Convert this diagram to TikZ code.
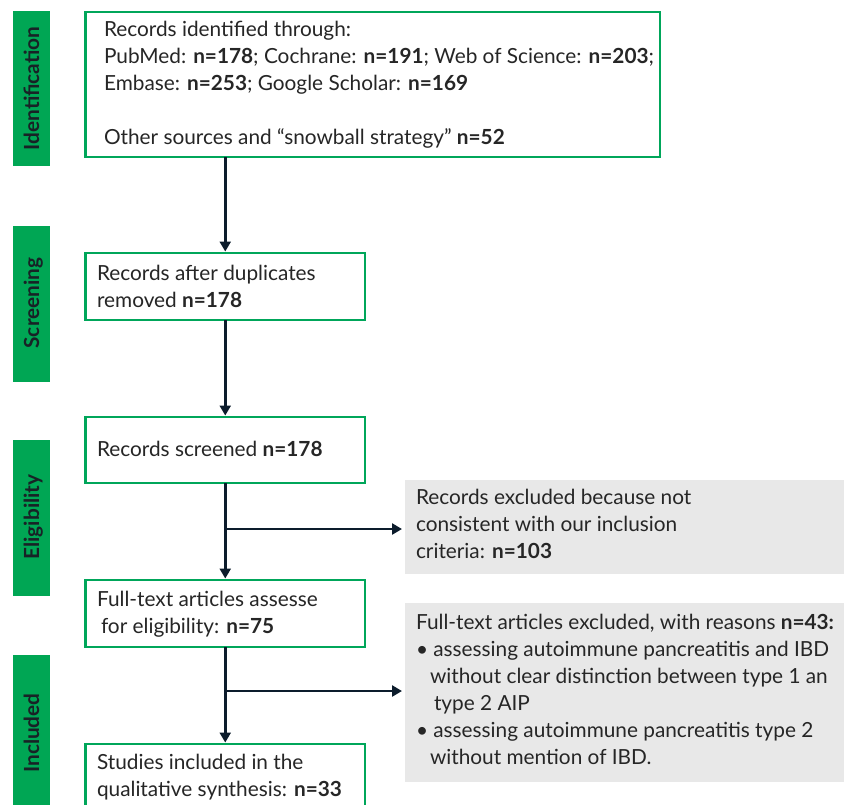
\documentclass[tikz,border=0pt]{standalone}
\usepackage{fontspec}
\setmainfont{Lato}
\usetikzlibrary{arrows.meta}
\definecolor{pgreen}{RGB}{0,166,90}
\definecolor{barg}{RGB}{0,166,84}
\definecolor{navy}{RGB}{12,28,44}
\definecolor{txtc}{RGB}{38,38,38}
\definecolor{lblc}{RGB}{24,34,38}
\definecolor{grayfill}{RGB}{232,232,232}
\newcommand{\mlines}[1]{\begin{tabular}[t]{@{}l@{}}#1\end{tabular}}
\newcommand{\bodyfs}{\fontsize{20.8}{27}\selectfont}
\begin{document}
\begin{tikzpicture}[x=1pt,y=-1pt,
  every node/.style={inner sep=0pt, outer sep=0pt},
  gbox/.style={draw=pgreen, line width=2.5pt, fill=white, rectangle},
  sidebar/.style={fill=barg, rectangle},
  sidelabel/.style={rotate=90, anchor=base, font=\bodyfs\bfseries, text=lblc},
  txt/.style={anchor=base west, text=txtc, font=\bodyfs},
  exbox/.style={fill=grayfill, rectangle},
  flow/.style={draw=navy, line width=2.6pt, -{Triangle[length=10pt,width=11pt]}}
]
\clip (0,0) rectangle (844,804);
\fill[white] (0,0) rectangle (844,804);

% side bars
\node[sidebar, minimum width=37pt, minimum height=155pt] (s1) at (31.5,88.5) {};
\node[sidebar, minimum width=37pt, minimum height=156pt] (s2) at (31.5,304) {};
\node[sidebar, minimum width=37pt, minimum height=156pt] (s3) at (31.5,518) {};
\node[sidebar, minimum width=37pt, minimum height=156pt] (s4) at (31.5,733) {};
\node[sidelabel] (l1) at (39,88.5) {Identification};
\node[sidelabel] (l2) at (39,303) {Screening};
\node[sidelabel] (l3) at (39,517) {Eligibility};
\node[sidelabel] (l4) at (39,733) {Included};

% green boxes
\node[gbox, minimum width=574.5pt, minimum height=145pt] (b1) at (372.75,84.5) {};
\node[gbox, minimum width=279.5pt, minimum height=67pt] (b2) at (225.25,286.5) {};
\node[gbox, minimum width=279.5pt, minimum height=66pt] (b3) at (225.25,450) {};
\node[gbox, minimum width=279.5pt, minimum height=67pt] (b4) at (225.25,613.5) {};
\node[gbox, minimum width=279.5pt, minimum height=67pt] (b5) at (225.25,777.5) {};

% grey boxes
\node[exbox, minimum width=445pt, minimum height=94pt] (ga) at (627.5,527) {};
\node[exbox, minimum width=445pt, minimum height=179pt] (gb) at (627.5,692.5) {};

% texts
\node[txt] (t1) at (104,36.7) {\mlines{Records identified through:\\
PubMed: \textbf{n=178}; Cochrane: \textbf{n=191}; Web of Science: \textbf{n=203};\\
Embase: \textbf{n=253}; Google Scholar: \textbf{n=169}\\
\\
Other sources and “snowball strategy” \textbf{n=52}}};
\node[txt] (t2) at (97,280) {\mlines{Records after duplicates\\ removed \textbf{n=178}}};
\node[txt] (t3) at (97,456) {Records screened \textbf{n=178}};
\node[txt] (t4) at (97,606) {\mlines{Full-text articles assesse\\ \hspace*{4pt}for eligibility: \textbf{n=75}}};
\node[txt] (t5) at (97,769) {\mlines{Studies included in the\\ qualitative synthesis: \textbf{n=33}}};
\node[txt] (ta) at (416,504) {\mlines{Records excluded because not\\ consistent with our inclusion\\ criteria: \textbf{n=103}}};
\node[txt] (tb) at (416,629) {\mlines{Full-text articles excluded, with reasons \textbf{n=43:}\\
• assessing autoimmune pancreatitis and IBD\\
\hspace*{14pt}without clear distinction between type 1 an\\
\hspace*{18pt}type 2 AIP\\
• assessing autoimmune pancreatitis type 2\\
\hspace*{14pt}without mention of IBD.}};

% connectors
\draw[flow, shorten >=1.5pt] (b2.north |- b1.south) -- (b2.north);
\draw[flow, shorten >=1.5pt] (b2.south) -- (b3.north);
\draw[flow, shorten >=1.5pt] (b3.south) -- (b4.north);
\draw[flow, shorten >=1.5pt] (b4.south) -- (b5.north);
\coordinate (j1) at (225.25,529);
\coordinate (j2) at (225.25,691);
\draw[flow, shorten >=3pt] (j1) -- (ga.west |- j1);
\draw[flow, shorten >=3pt] (j2) -- (gb.west |- j2);
\end{tikzpicture}
\end{document}
